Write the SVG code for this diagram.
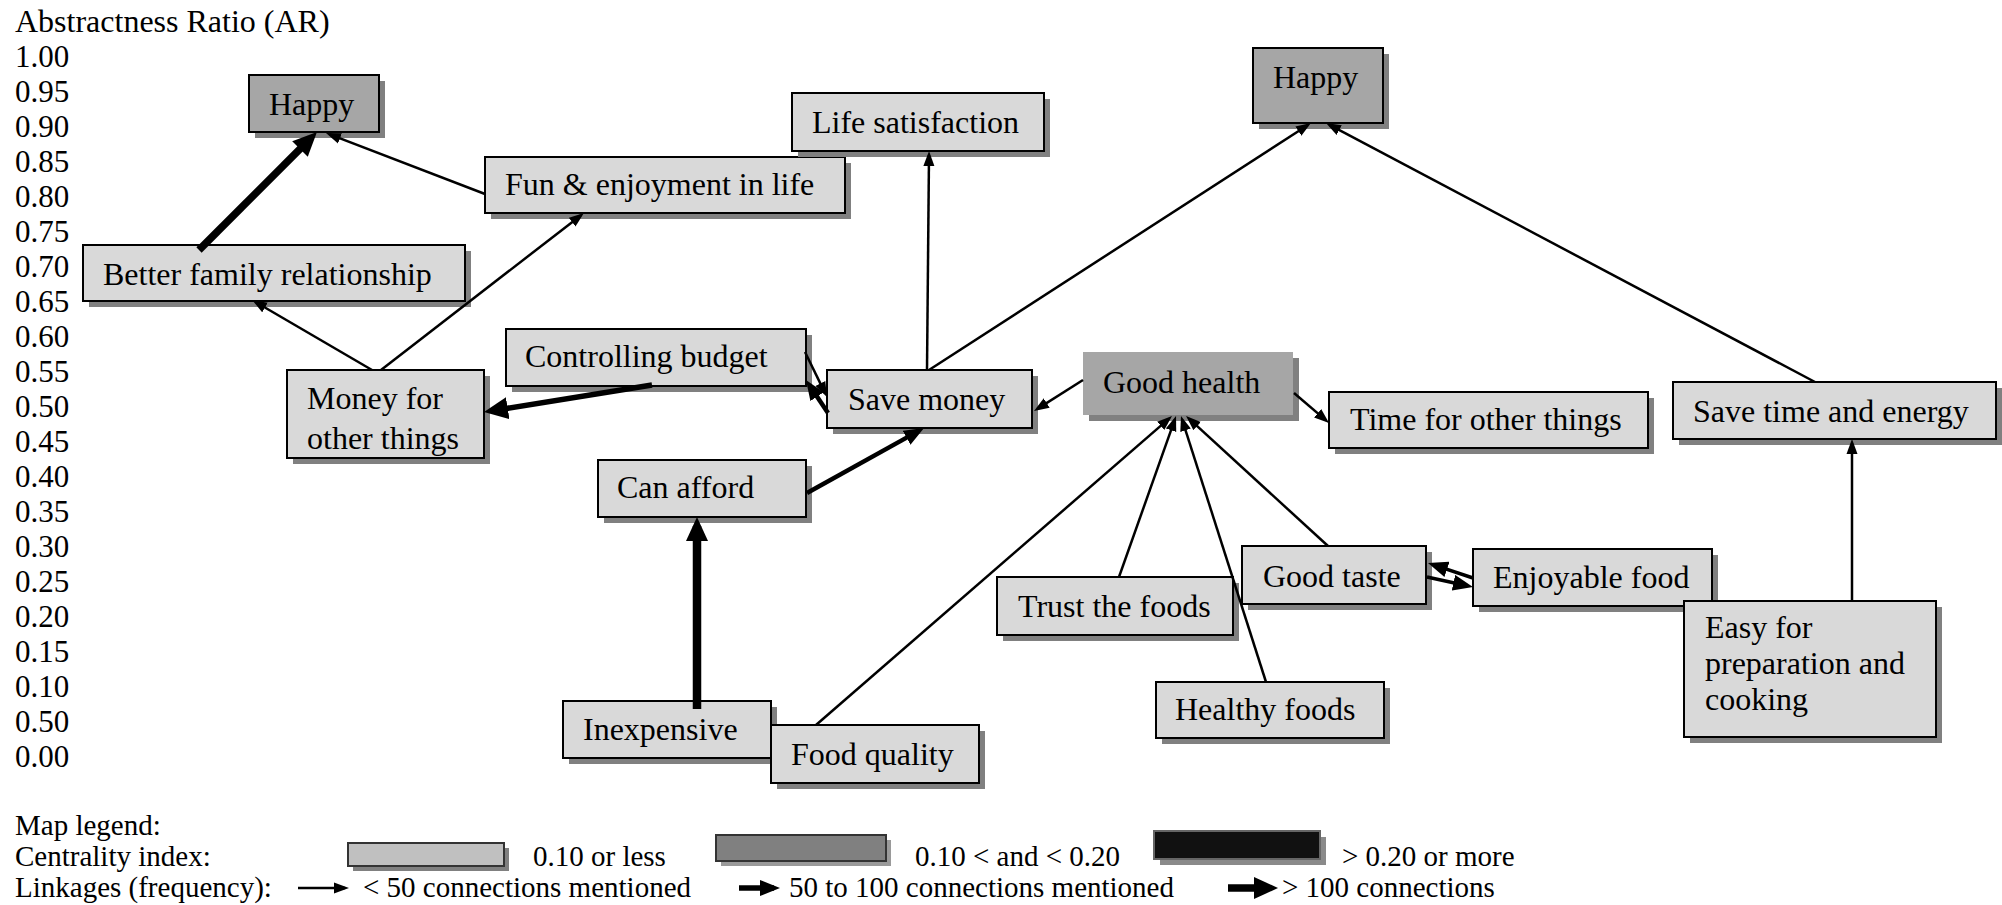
<svg xmlns="http://www.w3.org/2000/svg" width="2002" height="905" viewBox="0 0 2002 905">
  <defs>
    <style>
      text { font-family: "Liberation Serif", "Times New Roman", serif; fill: #000; }
      .lbl { font-size: 32px; }
      .title { font-size: 32px; }
      .axis { font-size: 31px; }
      .leg { font-size: 29px; }
      .shadow { fill: #808080; }
      .box { fill: #d9d9d9; stroke: #000; stroke-width: 2; }
      .box-mid { fill: #a6a6a6; stroke: #000; stroke-width: 2; }
      .box-mid-plain { fill: #a6a6a6; }
      .ln { stroke: #000; fill: none; stroke-linecap: butt; }
      .thin { stroke-width: 2.5; marker-end: url(#ah-thin); }
      .med { stroke-width: 4.5; marker-end: url(#ah-med); }
      .thick { stroke-width: 7.5; marker-end: url(#ah-thick); }
    </style>
    <marker id="ah-thin" markerUnits="userSpaceOnUse" viewBox="0 -6 15 12" markerWidth="15" markerHeight="12" refX="11" refY="0" orient="auto">
      <path d="M0,-5.5 L15,0 L0,5.5 Z" fill="#000"/>
    </marker>
    <marker id="ah-med" markerUnits="userSpaceOnUse" viewBox="0 -8 20 16" markerWidth="20" markerHeight="16" refX="14" refY="0" orient="auto">
      <path d="M0,-8 L20,0 L0,8 Z" fill="#000"/>
    </marker>
    <marker id="ah-thick" markerUnits="userSpaceOnUse" viewBox="0 -11 24 22" markerWidth="24" markerHeight="22" refX="15" refY="0" orient="auto">
      <path d="M0,-11 L24,0 L0,11 Z" fill="#000"/>
    </marker>
    <clipPath id="clip-money">
      <rect x="288" y="371" width="195" height="86"/>
    </clipPath>
  </defs>

  <rect width="2002" height="905" fill="#fff"/>

  <!-- vertical scale -->
  <g id="axis">
    <text x="15" y="32" class="title">Abstractness Ratio (AR)</text>
    <text x="15" y="67" class="axis">1.00</text>
    <text x="15" y="102" class="axis">0.95</text>
    <text x="15" y="137" class="axis">0.90</text>
    <text x="15" y="172" class="axis">0.85</text>
    <text x="15" y="207" class="axis">0.80</text>
    <text x="15" y="242" class="axis">0.75</text>
    <text x="15" y="277" class="axis">0.70</text>
    <text x="15" y="312" class="axis">0.65</text>
    <text x="15" y="347" class="axis">0.60</text>
    <text x="15" y="382" class="axis">0.55</text>
    <text x="15" y="417" class="axis">0.50</text>
    <text x="15" y="452" class="axis">0.45</text>
    <text x="15" y="487" class="axis">0.40</text>
    <text x="15" y="522" class="axis">0.35</text>
    <text x="15" y="557" class="axis">0.30</text>
    <text x="15" y="592" class="axis">0.25</text>
    <text x="15" y="627" class="axis">0.20</text>
    <text x="15" y="662" class="axis">0.15</text>
    <text x="15" y="697" class="axis">0.10</text>
    <text x="15" y="732" class="axis">0.50</text>
    <text x="15" y="767" class="axis">0.00</text>
  </g>

  <!-- nodes -->
  <g id="node-happy-left">
    <rect class="shadow" x="255" y="81" width="130" height="57"/>
    <rect class="box-mid" x="249" y="75" width="130" height="57"/>
    <text x="269" y="115" class="lbl">Happy</text>
  </g>
  <g id="node-better-family">
    <rect class="shadow" x="89" y="251" width="382" height="56"/>
    <rect class="box" x="83" y="245" width="382" height="56"/>
    <text x="103" y="285" class="lbl">Better family relationship</text>
  </g>
  <g id="node-fun">
    <rect class="shadow" x="491" y="163" width="360" height="56"/>
    <rect class="box" x="485" y="157" width="360" height="56"/>
    <text x="505" y="195" class="lbl">Fun &amp; enjoyment in life</text>
  </g>
  <g id="node-life-satisfaction">
    <rect class="shadow" x="798" y="99" width="252" height="58"/>
    <rect class="box" x="792" y="93" width="252" height="58"/>
    <text x="812" y="133" class="lbl">Life satisfaction</text>
  </g>
  <g id="node-money-other">
    <rect class="shadow" x="293" y="376" width="197" height="88"/>
    <rect class="box" x="287" y="370" width="197" height="88"/>
    <g clip-path="url(#clip-money)">
      <text x="307" y="409" class="lbl">Money for</text>
      <text x="307" y="449" class="lbl">other things</text>
    </g>
  </g>
  <g id="node-controlling-budget">
    <rect class="shadow" x="512" y="335" width="300" height="57"/>
    <rect class="box" x="506" y="329" width="300" height="57"/>
    <text x="525" y="367" class="lbl">Controlling budget</text>
  </g>
  <g id="node-save-money">
    <rect class="shadow" x="833" y="376" width="205" height="58"/>
    <rect class="box" x="827" y="370" width="205" height="58"/>
    <text x="848" y="410" class="lbl">Save money</text>
  </g>
  <g id="node-can-afford">
    <rect class="shadow" x="604" y="466" width="208" height="57"/>
    <rect class="box" x="598" y="460" width="208" height="57"/>
    <text x="617" y="498" class="lbl">Can afford</text>
  </g>
  <g id="node-inexpensive">
    <rect class="shadow" x="569" y="707" width="208" height="57"/>
    <rect class="box" x="563" y="701" width="208" height="57"/>
    <text x="583" y="740" class="lbl">Inexpensive</text>
  </g>
  <g id="node-food-quality">
    <rect class="shadow" x="777" y="731" width="208" height="58"/>
    <rect class="box" x="771" y="725" width="208" height="58"/>
    <text x="791" y="765" class="lbl">Food quality</text>
  </g>
  <g id="node-happy-right">
    <rect class="shadow" x="1259" y="54" width="130" height="75"/>
    <rect class="box-mid" x="1253" y="48" width="130" height="75"/>
    <text x="1273" y="88" class="lbl">Happy</text>
  </g>
  <g id="node-good-health">
    <rect class="shadow" x="1089" y="358" width="210" height="63"/>
    <rect class="box-mid-plain" x="1083" y="352" width="210" height="63"/>
    <text x="1103" y="393" class="lbl">Good health</text>
  </g>
  <g id="node-time-other">
    <rect class="shadow" x="1335" y="398" width="319" height="56"/>
    <rect class="box" x="1329" y="392" width="319" height="56"/>
    <text x="1350" y="430" class="lbl">Time for other things</text>
  </g>
  <g id="node-save-time">
    <rect class="shadow" x="1679" y="388" width="323" height="57"/>
    <rect class="box" x="1673" y="382" width="323" height="57"/>
    <text x="1693" y="422" class="lbl">Save time and energy</text>
  </g>
  <g id="node-trust-foods">
    <rect class="shadow" x="1003" y="583" width="236" height="58"/>
    <rect class="box" x="997" y="577" width="236" height="58"/>
    <text x="1018" y="617" class="lbl">Trust the foods</text>
  </g>
  <g id="node-good-taste">
    <rect class="shadow" x="1248" y="552" width="184" height="58"/>
    <rect class="box" x="1242" y="546" width="184" height="58"/>
    <text x="1263" y="587" class="lbl">Good taste</text>
  </g>
  <g id="node-enjoyable-food">
    <rect class="shadow" x="1479" y="555" width="239" height="57"/>
    <rect class="box" x="1473" y="549" width="239" height="57"/>
    <text x="1493" y="588" class="lbl">Enjoyable food</text>
  </g>
  <g id="node-healthy-foods">
    <rect class="shadow" x="1162" y="688" width="228" height="56"/>
    <rect class="box" x="1156" y="682" width="228" height="56"/>
    <text x="1175" y="720" class="lbl">Healthy foods</text>
  </g>
  <g id="node-easy-prep">
    <rect class="shadow" x="1690" y="607" width="252" height="136"/>
    <rect class="box" x="1684" y="601" width="252" height="136"/>
    <text x="1705" y="638" class="lbl">Easy for</text>
    <text x="1705" y="674" class="lbl">preparation and</text>
    <text x="1705" y="710" class="lbl">cooking</text>
  </g>

  <!-- linkages -->
  <g id="connectors">
    <line class="ln thin" x1="372" y1="370" x2="255.5" y2="302"/>
    <line class="ln thin" x1="381" y1="370" x2="580.8" y2="215.4"/>
    <line class="ln thin" x1="485" y1="194" x2="329.7" y2="134.4"/>
    <line class="ln thick" x1="199" y1="250" x2="310.6" y2="138.4"/>
    <line class="ln thick" x1="652" y1="385" x2="492.9" y2="410.6" style="stroke-width:5.5"/>
    <line class="ln thin" x1="805" y1="352" x2="825.2" y2="393.4"/>
    <line class="ln med" x1="828" y1="413" x2="809.3" y2="385"/>
    <line class="ln thin" x1="927" y1="370" x2="929" y2="155"/>
    <line class="ln thin" x1="929" y1="370" x2="1307.6" y2="125.2"/>
    <line class="ln thin" x1="1815" y1="382" x2="1329.5" y2="124.9"/>
    <line class="ln med" x1="807" y1="493" x2="918.8" y2="430.9"/>
    <line class="ln thick" x1="697" y1="709" x2="697" y2="526" style="stroke-width:8.5"/>
    <line class="ln thin" x1="1083" y1="380" x2="1037.4" y2="408.9"/>
    <line class="ln thin" x1="1294" y1="393" x2="1326" y2="420.4"/>
    <line class="ln thin" x1="1852" y1="601" x2="1852" y2="443"/>
    <line class="ln thin" x1="816" y1="725" x2="1169" y2="418.6"/>
    <line class="ln thin" x1="1119" y1="577" x2="1174.7" y2="419.8"/>
    <line class="ln thin" x1="1266" y1="682" x2="1182.2" y2="419.8"/>
    <line class="ln thin" x1="1328" y1="546" x2="1189" y2="418.7"/>
    <line class="ln med" x1="1473" y1="578" x2="1433.7" y2="564.9" style="stroke-width:3.5"/>
    <line class="ln med" x1="1427" y1="577" x2="1467.1" y2="585.7" style="stroke-width:3.5"/>
  </g>

  <!-- key -->
  <g id="legend">
    <text x="15" y="835" class="leg">Map legend:</text>
    <text x="15" y="866" class="leg">Centrality index:</text>
    <text x="15" y="897" class="leg">Linkages (frequency):</text>

    <rect class="shadow" x="353" y="848" width="156" height="23"/>
    <rect x="348" y="843" width="156" height="23" fill="#c0c0c0" stroke="#333" stroke-width="2"/>
    <text x="533" y="866" class="leg">0.10 or less</text>

    <rect x="721" y="840" width="170" height="26" fill="#9a9a9a"/>
    <rect x="716" y="835" width="170" height="26" fill="#808080" stroke="#333" stroke-width="2"/>
    <text x="915" y="866" class="leg">0.10 &lt; and &lt; 0.20</text>

    <rect x="1160" y="837" width="166" height="28" fill="#8a8a8a"/>
    <rect x="1154" y="831" width="166" height="28" fill="#111" stroke="#666" stroke-width="2"/>
    <text x="1342" y="866" class="leg">&gt; 0.20 or more</text>

    <line class="ln thin" x1="298" y1="888" x2="345" y2="888"/>
    <text x="363" y="897" class="leg">&lt; 50 connections mentioned</text>
    <line class="ln med" x1="739" y1="888" x2="774" y2="888" style="stroke-width:5.5"/>
    <text x="789" y="897" class="leg">50 to 100 connections mentioned</text>
    <line class="ln thick" x1="1228" y1="888" x2="1269" y2="888"/>
    <text x="1282" y="897" class="leg">&gt; 100 connections</text>
  </g>
</svg>
